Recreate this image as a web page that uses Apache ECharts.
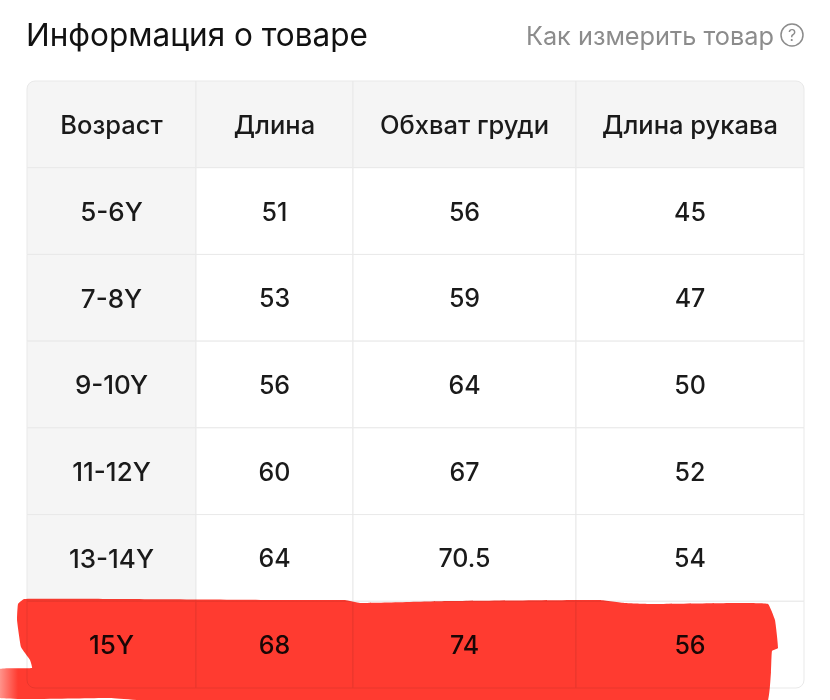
<!DOCTYPE html>
<html>
<head>
<meta charset="utf-8">
<title>Информация о товаре</title>
<script src="https://cdn.jsdelivr.net/npm/echarts@6/dist/echarts.min.js"></script>
<style>
html, body { margin: 0; padding: 0; background: #fff; }
#main { width: 830px; height: 700px; }
</style>
</head>
<body>
<div id="main"></div>
<script>
// data
var headers = ['Возраст', 'Длина', 'Обхват груди', 'Длина рукава'];
var ages = ['5-6Y', '7-8Y', '9-10Y', '11-12Y', '13-14Y', '15Y'];
var lengths = ['51', '53', '56', '60', '64', '68'];
var chests = ['56', '59', '64', '67', '70.5', '74'];
var sleeves = ['45', '47', '50', '52', '54', '56'];

// layout: column edges on the x axis
var colEdges = [0, 169, 326, 549, 777];
var FONT = 'Inter, Roboto, sans-serif';

var rowNames = ['header'].concat(ages);
var cells = [];
headers.forEach(function (h, c) { cells.push([c, 0, h]); });
ages.forEach(function (age, i) {
    cells.push([0, i + 1, age]);
    cells.push([1, i + 1, lengths[i]]);
    cells.push([2, i + 1, chests[i]]);
    cells.push([3, i + 1, sleeves[i]]);
});

function renderCell(params, api) {
    var c = api.value(0);
    var r = api.value(1);
    var text = cells[params.dataIndex][2];
    var left = api.coord([colEdges[c], r]);
    var right = api.coord([colEdges[c + 1], r]);
    var h = api.size([0, 1])[1];
    var last = rowNames.length - 1;
    var radius = [
        c === 0 && r === 0 ? 8 : 0,
        c === 3 && r === 0 ? 8 : 0,
        c === 3 && r === last ? 8 : 0,
        c === 0 && r === last ? 8 : 0
    ];
    // the marker covers the last row, its shade would show through the multiply
    var shaded = (c === 0 && r !== last) || r === 0;
    var fontSize = r === 0 ? 25.5 : (c === 0 ? 26 : 25);
    return {
        type: 'group',
        children: [{
            type: 'rect',
            shape: { x: left[0], y: left[1] - h / 2, width: right[0] - left[0], height: h, r: radius },
            style: { fill: shaded ? '#f5f5f5' : '#ffffff', stroke: '#e9e9e9', lineWidth: 1 }
        }, {
            type: 'text',
            style: {
                x: (left[0] + right[0]) / 2,
                y: left[1] + 2,
                text: text,
                align: 'center',
                verticalAlign: 'middle',
                fontFamily: FONT,
                fontWeight: 500,
                fontSize: fontSize,
                fill: '#1a1a1a'
            }
        }]
    };
}

var myChart = echarts.init(document.getElementById('main'));
myChart.setOption({
    backgroundColor: '#ffffff',
    animation: false,
    title: [{
        text: 'Информация о товаре',
        left: 21,
        top: 16,
        textStyle: { fontFamily: FONT, fontSize: 31.5, fontWeight: 'normal', color: '#111111' }
    }, {
        text: 'Как измерить товар',
        right: 51,
        top: 20,
        textStyle: { fontFamily: FONT, fontSize: 25.3, fontWeight: 'normal', color: '#8c8c8c' }
    }],
    grid: { left: 27, right: 26, top: 81, bottom: 12 },
    xAxis: { type: 'value', min: 0, max: 777, show: false },
    yAxis: { type: 'category', data: rowNames, inverse: true, show: false },
    series: [{
        type: 'custom',
        renderItem: renderCell,
        data: cells,
        encode: { x: 0, y: 1 },
        silent: true
    }],
    graphic: [
        // help icon
        {
            type: 'circle', z: 50,
            shape: { cx: 792, cy: 35, r: 11 },
            style: { fill: 'none', stroke: '#8c8c8c', lineWidth: 1.5 }
        },
        {
            type: 'text', z: 50,
            style: { x: 792, y: 36, text: '?', align: 'center', verticalAlign: 'middle', fontFamily: FONT, fontSize: 16, fill: '#8c8c8c' }
        },
        // hand drawn red marker over the last row, fades out at the far left
        {
            type: 'polygon', z: 100,
            shape: {
                smooth: 0.1,
                points: [[24, 599], [120, 599], [280, 600], [345, 600], [360, 603], [450, 601], [600, 600], [625, 603], [650, 604],
                    [740, 603], [768, 604], [775, 620], [778, 648], [772, 651], [771, 672], [767, 702], [600, 702], [400, 701], [165, 702],
                    [110, 698], [0, 698], [0, 669], [32, 668], [30, 660], [21, 647], [17, 620], [18, 604]]
            },
            style: {
                blend: 'multiply',
                fill: new echarts.graphic.LinearGradient(0, 0, 1, 0, [
                    { offset: 0, color: '#ff9a92' },
                    { offset: 0.025, color: '#ff3b30' },
                    { offset: 1, color: '#ff3b30' }
                ])
            }
        }
    ]
});
</script>
</body>
</html>
